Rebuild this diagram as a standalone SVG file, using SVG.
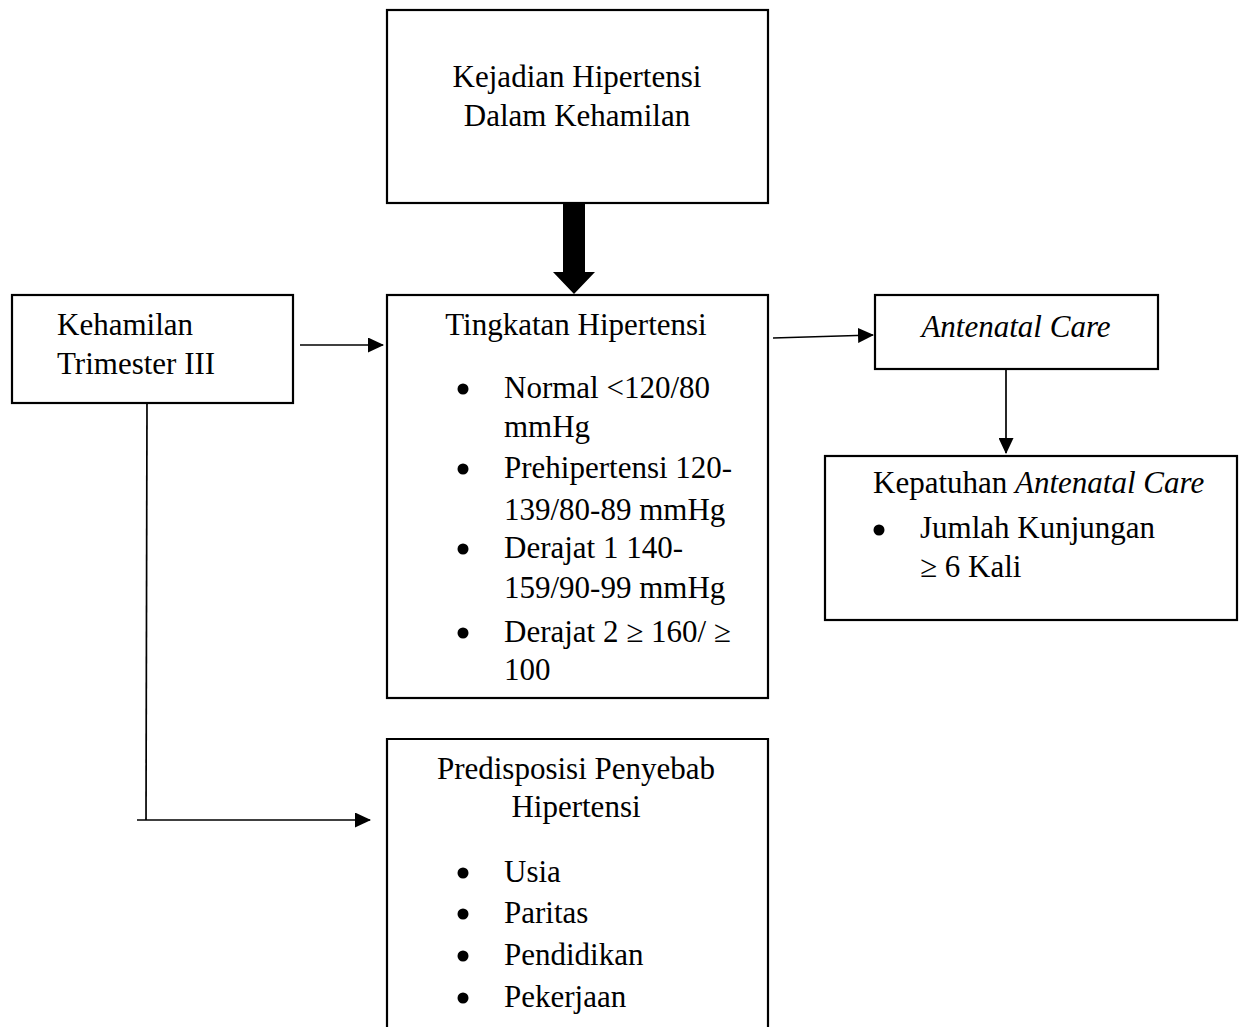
<svg xmlns="http://www.w3.org/2000/svg" width="1239" height="1027" viewBox="0 0 1239 1027">
<style>
.box{fill:#fff;stroke:#000;stroke-width:2.2}
.t{font-family:"Liberation Serif","Times New Roman",serif;font-size:31px;fill:#000}
.c{text-anchor:middle}
.i{font-style:italic}
.ln{stroke:#000;stroke-width:1.7;fill:none}
.b{fill:#000}
</style>
<defs>
<marker id="ah" markerWidth="16" markerHeight="15" refX="15" refY="7.5" orient="auto" markerUnits="userSpaceOnUse">
<path d="M0,0 L16,7.5 L0,15 Z" fill="#000"/>
</marker>
</defs>
<g id="node-kejadian">
<rect class="box" x="387" y="10" width="381" height="193"/>
<text class="t c" x="577" y="87">Kejadian Hipertensi</text>
<text class="t c" x="577" y="126">Dalam Kehamilan</text>
</g>
<g id="node-kehamilan">
<rect class="box" x="12" y="295" width="281" height="108"/>
<text class="t" x="57" y="335">Kehamilan</text>
<text class="t" x="57" y="374">Trimester III</text>
</g>
<g id="node-tingkatan">
<rect class="box" x="387" y="295" width="381" height="403"/>
<text class="t c" x="576" y="335">Tingkatan Hipertensi</text>
<circle class="b" cx="463" cy="389" r="5.5"/>
<circle class="b" cx="463" cy="469" r="5.5"/>
<circle class="b" cx="463" cy="549" r="5.5"/>
<circle class="b" cx="463" cy="633" r="5.5"/>
<g class="t">
<text x="504" y="398">Normal &lt;120/80</text>
<text x="504" y="437">mmHg</text>
<text x="504" y="478">Prehipertensi 120-</text>
<text x="504" y="520">139/80-89 mmHg</text>
<text x="504" y="558">Derajat 1 140-</text>
<text x="504" y="598">159/90-99 mmHg</text>
<text x="504" y="642">Derajat 2 ≥ 160/ ≥</text>
<text x="504" y="680">100</text>
</g>
</g>
<g id="node-antenatal">
<rect class="box" x="875" y="295" width="283" height="74"/>
<text class="t c i" x="1016" y="337">Antenatal Care</text>
</g>
<g id="node-kepatuhan">
<rect class="box" x="825" y="456" width="412" height="164"/>
<text class="t" x="873" y="493">Kepatuhan <tspan class="i">Antenatal Care</tspan></text>
<circle class="b" cx="879" cy="530" r="5.5"/>
<text class="t" x="920" y="538">Jumlah Kunjungan</text>
<text class="t" x="920" y="577">≥ 6 Kali</text>
</g>
<g id="node-predisposisi">
<path class="box" d="M387,1027 L387,739 L768,739 L768,1027"/>
<text class="t c" x="576" y="779">Predisposisi Penyebab</text>
<text class="t c" x="576" y="817">Hipertensi</text>
<circle class="b" cx="463" cy="873" r="5.5"/>
<circle class="b" cx="463" cy="914" r="5.5"/>
<circle class="b" cx="463" cy="956" r="5.5"/>
<circle class="b" cx="463" cy="998" r="5.5"/>
<g class="t">
<text x="504" y="882">Usia</text>
<text x="504" y="923">Paritas</text>
<text x="504" y="965">Pendidikan</text>
<text x="504" y="1007">Pekerjaan</text>
</g>
</g>
<g id="connectors">
<path d="M563,203 L585,203 L585,272 L595,272 L574,294 L553,272 L563,272 Z" fill="#000"/>
<line class="ln" x1="300" y1="345" x2="383" y2="345" marker-end="url(#ah)"/>
<line class="ln" x1="773" y1="338" x2="873" y2="335" marker-end="url(#ah)"/>
<line class="ln" x1="1006" y1="369" x2="1006" y2="453" marker-end="url(#ah)"/>
<polyline class="ln" points="147,403 146,820"/>
<line class="ln" x1="137" y1="820" x2="370" y2="820" stroke-width="2" marker-end="url(#ah)"/>
</g>
</svg>
